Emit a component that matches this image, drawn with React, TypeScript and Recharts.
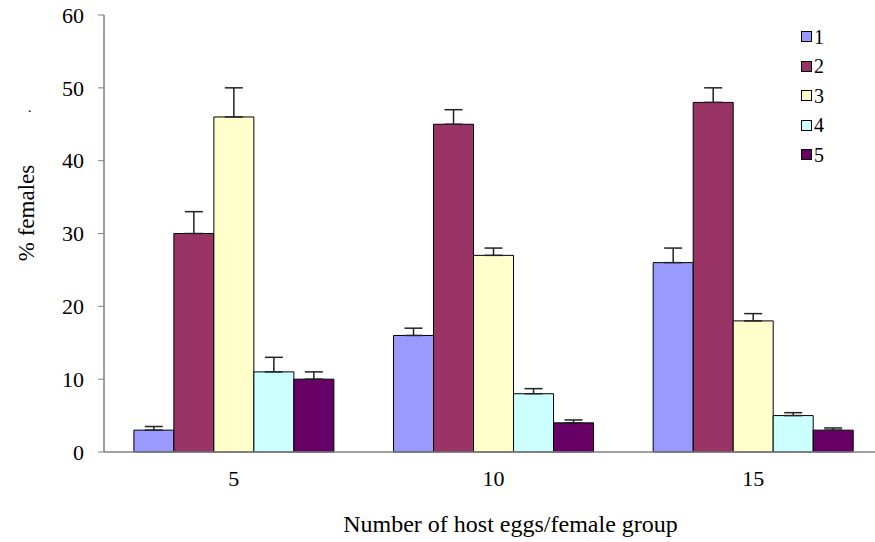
import React from 'react';
import { Bar, BarChart, ErrorBar, Label, XAxis, YAxis } from 'recharts';

const groups = ['5', '10', '15'];
const series1 = [3, 16, 26];
const series2 = [30, 45, 48];
const series3 = [46, 27, 18];
const series4 = [11, 8, 5];
const series5 = [10, 4, 3];
const err1 = [0.5, 1, 2];
const err2 = [3, 2, 2];
const err3 = [4, 1, 1];
const err4 = [2, 0.7, 0.4];
const err5 = [1, 0.4, 0.3];
const yTicks = [0, 10, 20, 30, 40, 50, 60];

const seriesNames = ['1', '2', '3', '4', '5'];
const colors = ['#9999FF', '#993366', '#FFFFCC', '#CCFFFF', '#660066'];
const values = [series1, series2, series3, series4, series5];
const errors = [err1, err2, err3, err4, err5];

const data = groups.map((g, i) => {
  const row: any = { group: g, pos: i };
  seriesNames.forEach((s, k) => {
    row['s' + s] = values[k][i];
    row['e' + s] = [0, errors[k][i]];
  });
  return row;
});

const font = "'Liberation Serif', 'DejaVu Serif', serif";

const LegendBox = () => (
  <div
    style={{
      position: 'absolute',
      left: 801,
      top: 22,
      fontFamily: font,
      fontSize: 20,
      color: '#000',
      lineHeight: 1,
    }}
  >
    {seriesNames.map((s, k) => (
      <div key={s} style={{ display: 'flex', alignItems: 'center', height: 29.5 }}>
        <span
          style={{
            width: 9,
            height: 9,
            background: colors[k],
            border: '1px solid #000',
            marginRight: 2,
          }}
        />
        <span>{s}</span>
      </div>
    ))}
  </div>
);

export default function App() {
  return (
    <div
      style={{
        position: 'absolute',
        left: 0,
        top: 0,
        width: 875,
        height: 542,
        overflow: 'hidden',
        background: '#fff',
        fontFamily: font,
      }}
    >
      <BarChart
        width={890}
        height={542}
        data={data}
        margin={{ top: 15, right: 7, left: 0, bottom: 0 }}
        barCategoryGap='11.5%'
        barGap={0}
        style={{ fontFamily: font }}
      >
        <XAxis
          xAxisId='grid'
          type='number'
          dataKey='pos'
          domain={[-0.5, 2.5]}
          ticks={[-0.5, 0.5, 1.5, 2.5]}
          tick={false}
          axisLine={false}
          tickLine={{ stroke: '#808080' }}
          tickSize={8}
          height={0}
        />
        <XAxis
          xAxisId='cat'
          dataKey='group'
          height={90}
          axisLine={{ stroke: '#808080', strokeWidth: 1.5 }}
          tickLine={false}
          tickSize={0}
          tickMargin={18}
          tick={{ fill: '#000', fontSize: 22, style: { fontFamily: font } }}
        >
          <Label
            value='Number of host eggs/female  group'
            position='insideBottom'
            offset={10}
            dx={17}
            style={{ fill: '#000', fontSize: 24, fontFamily: font, whiteSpace: 'pre' }}
          />
        </XAxis>
        <YAxis
          domain={[0, 60]}
          ticks={yTicks}
          width={104}
          axisLine={{ stroke: '#808080', strokeWidth: 1.5 }}
          tickLine={{ stroke: '#808080' }}
          tickSize={6}
          tickMargin={14}
          tick={{ fill: '#000', fontSize: 22, style: { fontFamily: font } }}
        >
          <Label
            content={() => (
              <g>
                <text
                  x={26}
                  y={213}
                  transform='rotate(-90 26 213)'
                  textAnchor='middle'
                  dominantBaseline='central'
                  style={{ fill: '#000', fontSize: 23, fontFamily: font }}
                >
                  % females
                </text>
                <text x={28} y={112} style={{ fill: '#000', fontSize: 14, fontFamily: font }}>
                  .
                </text>
              </g>
            )}
          />
        </YAxis>
        {seriesNames.map((s, k) => (
          <Bar
            key={s}
            xAxisId='cat'
            dataKey={'s' + s}
            name={s}
            fill={colors[k]}
            stroke='#000'
            strokeWidth={1}
            isAnimationActive={false}
          >
            <ErrorBar
              dataKey={'e' + s}
              direction='y'
              width={9}
              stroke='#222'
              strokeWidth={1.5}
            />
          </Bar>
        ))}
      </BarChart>
      <LegendBox />
    </div>
  );
}
